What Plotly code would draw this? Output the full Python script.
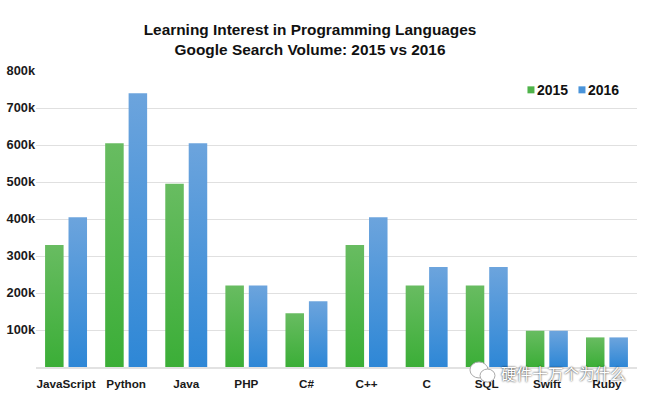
import plotly.graph_objects as go

# Values
languages = ["JavaScript", "Python", "Java", "PHP", "C#", "C++", "C", "SQL", "Swift", "Ruby"]
volume_2015 = [330000, 605000, 495000, 220000, 145000, 330000, 220000, 220000, 98000, 80000]
volume_2016 = [405000, 740000, 605000, 220000, 178000, 405000, 270000, 270000, 98000, 80000]
y_ticks = [100000, 200000, 300000, 400000, 500000, 600000, 700000, 800000]
y_labels = ["100k", "200k", "300k", "400k", "500k", "600k", "700k", "800k"]

FONT = "Liberation Sans"

fig = go.Figure()
fig.add_trace(go.Bar(name="2015", x=languages, y=volume_2015, marker=dict(color="#4FB34A", line_width=0)))
fig.add_trace(go.Bar(name="2016", x=languages, y=volume_2016, marker=dict(color="#4A94DA", line_width=0)))

fig.update_layout(
    width=650,
    height=402,
    margin=dict(l=36, r=13, t=71, b=35),
    paper_bgcolor="white",
    plot_bgcolor="white",
    barmode="group",
    bargap=0.22,
    bargroupgap=0.21,
    font=dict(family=FONT, size=12, color="#1a1a1a"),
    title=dict(
        text="<b>Learning Interest in Programming Languages<br>Google Search Volume: 2015 vs 2016</b>",
        font=dict(family=FONT, size=15.4, color="#111111"),
        x=0.477,
        xanchor="center",
        y=0.912,
        yanchor="middle",
    ),
    legend=dict(
        orientation="h",
        x=0.767,
        y=0.935,
        xanchor="left",
        yanchor="middle",
        bgcolor="rgba(0,0,0,0)",
        font=dict(family=FONT, size=14, color="#111111", weight="bold"),
        entrywidth=6,
        entrywidthmode="pixels",
        itemclick=False,
        itemdoubleclick=False,
    ),
    showlegend=True,
)
fig.update_xaxes(
    automargin=False,
    showgrid=False,
    showline=True,
    linecolor="#e2e2e2",
    linewidth=1.5,
    ticks="",
    ticklabelstandoff=5,
    tickfont=dict(family=FONT, size=11.7, weight="bold"),
)
fig.update_yaxes(
    automargin=False,
    range=[0, 800000],
    tickmode="array",
    tickvals=y_ticks,
    ticktext=y_labels,
    gridcolor="#e0e0e0",
    gridwidth=1.2,
    zeroline=False,
    ticks="",
    tickfont=dict(family=FONT, size=12.8, weight="bold"),
)

# Watermark on top of the chart
fig.add_annotation(
    text="硬件十万个为什么",
    xref="paper",
    yref="paper",
    x=0.985,
    y=-0.02,
    xanchor="right",
    yanchor="middle",
    showarrow=False,
    font=dict(family="Noto Sans CJK SC", size=15.6, color="white", shadow="0 0 2px #000000"),
)
fig.add_shape(type="circle", xref="paper", yref="paper", x0=0.7221, x1=0.7521, y0=-0.037, y1=0.017,
              fillcolor="white", line=dict(color="#aaaaaa", width=1))
fig.add_shape(type="circle", xref="paper", yref="paper", x0=0.7388, x1=0.7637, y0=-0.051, y1=-0.007,
              fillcolor="white", line=dict(color="#aaaaaa", width=1))

# Plotly bars have no gradient option, so set it on the drawn svg
post_script = """
document.body.style.margin = '0';
document.body.style.overflow = 'hidden';
var gd = document.querySelector('.plotly-graph-div');
var svg = gd.querySelector('svg.main-svg');
var ns = 'http://www.w3.org/2000/svg';
var defs = document.createElementNS(ns, 'defs');
function addGrad(id, top, bottom) {
    var g = document.createElementNS(ns, 'linearGradient');
    g.setAttribute('id', id);
    g.setAttribute('x1', '0'); g.setAttribute('y1', '0');
    g.setAttribute('x2', '0'); g.setAttribute('y2', '1');
    [[0, top], [1, bottom]].forEach(function (s) {
        var stop = document.createElementNS(ns, 'stop');
        stop.setAttribute('offset', s[0]);
        stop.setAttribute('stop-color', s[1]);
        g.appendChild(stop);
    });
    defs.appendChild(g);
}
addGrad('grad2015', '#68BC61', '#3BAE37');
addGrad('grad2016', '#6CA4DD', '#2E87D6');
svg.appendChild(defs);
gd.querySelectorAll('.barlayer .trace').forEach(function (t, i) {
    t.querySelectorAll('.point path').forEach(function (p) {
        p.style.fill = 'url(#' + (i === 0 ? 'grad2015' : 'grad2016') + ')';
    });
});
// small legend squares sitting right next to the labels
gd.querySelectorAll('.legend .legendpoints path').forEach(function (p) {
    p.setAttribute('d', 'M3.5,3.5H-3.5V-3.5H3.5Z');
    p.setAttribute('transform', 'translate(34,0)');
});
// narrow entrywidth makes the legend box clip the last label
gd.querySelectorAll('.legend, .legend .scrollbox').forEach(function (el) {
    el.removeAttribute('clip-path');
    el.style.clipPath = 'none';
});
"""

fig.write_html("out.html", post_script=post_script, config={"displayModeBar": False})
